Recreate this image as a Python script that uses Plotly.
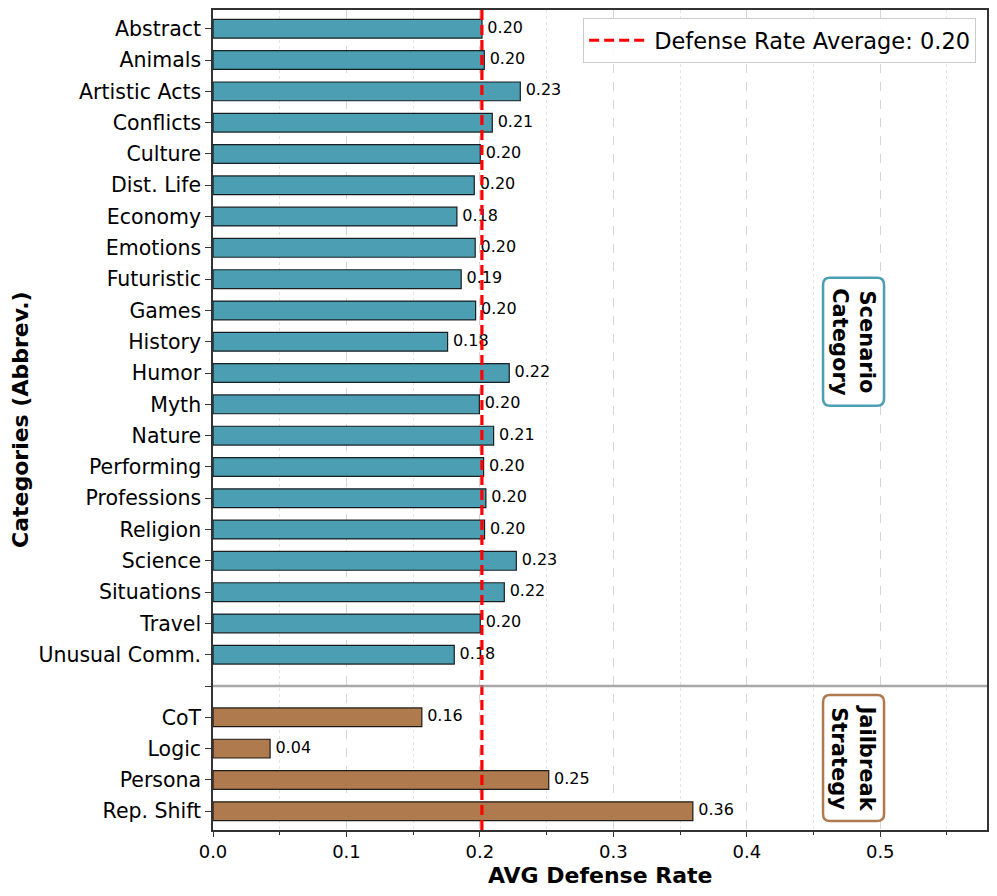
import plotly.graph_objects as go

scenario_labels = ["Abstract", "Animals", "Artistic Acts", "Conflicts", "Culture", "Dist. Life",
                   "Economy", "Emotions", "Futuristic", "Games", "History", "Humor", "Myth",
                   "Nature", "Performing", "Professions", "Religion", "Science", "Situations",
                   "Travel", "Unusual Comm."]
scenario_values = [0.2016, 0.2033, 0.2303, 0.2093, 0.2003, 0.1958, 0.1828, 0.1965, 0.1860,
                   0.1968, 0.1758, 0.2220, 0.1996, 0.2103, 0.2028, 0.2045, 0.2035, 0.2273,
                   0.2183, 0.2003, 0.1808]
jailbreak_labels = ["CoT", "Logic", "Persona", "Rep. Shift"]
jailbreak_values = [0.1565, 0.0428, 0.2516, 0.3596]
average_value = 0.2015

FONT = "DejaVu Sans"
TEAL = "#4C9EB2"
BROWN = "#B07A4F"

n_s = len(scenario_labels)
sep_pos = n_s
pos_s = list(range(n_s))
pos_j = [n_s + 1 + i for i in range(len(jailbreak_labels))]
y_max = pos_j[-1]

fig = go.Figure()

fig.add_trace(go.Bar(
    x=scenario_values, y=pos_s, orientation="h", width=0.6,
    marker=dict(color=TEAL, line=dict(color="rgba(0,0,0,0.85)", width=1.2)),
    showlegend=False, hoverinfo="skip"))
fig.add_trace(go.Bar(
    x=jailbreak_values, y=pos_j, orientation="h", width=0.6,
    marker=dict(color=BROWN, line=dict(color="rgba(0,0,0,0.85)", width=1.2)),
    showlegend=False, hoverinfo="skip"))

all_vals = scenario_values + jailbreak_values
all_pos = pos_s + pos_j
fig.add_trace(go.Scatter(
    x=[v + 0.004 for v in all_vals], y=all_pos, mode="text",
    text=[f"{v:.2f}" for v in all_vals], textposition="middle right",
    textfont=dict(family=FONT, size=16, color="black"),
    showlegend=False, hoverinfo="skip"))

# legend entry for average line
fig.add_trace(go.Scatter(
    x=[None], y=[None], mode="lines",
    line=dict(color="red", width=3, dash="10px,5px"),
    name=f"Defense Rate Average: {average_value:.2f}"))

fig.add_shape(type="line", xref="x", yref="paper", x0=average_value, x1=average_value,
              y0=0, y1=1, line=dict(color="red", width=3.2, dash="10px,5px"), layer="above")
fig.add_shape(type="line", xref="paper", yref="y", x0=0, x1=1, y0=sep_pos, y1=sep_pos,
              line=dict(color="rgba(140,140,140,0.75)", width=2.5), layer="above")


def rounded_box(hw, hh, r):
    return (f"M {-hw + r},{-hh} L {hw - r},{-hh} Q {hw},{-hh} {hw},{-hh + r} "
            f"L {hw},{hh - r} Q {hw},{hh} {hw - r},{hh} L {-hw + r},{hh} "
            f"Q {-hw},{hh} {-hw},{hh - r} L {-hw},{-hh + r} Q {-hw},{-hh} {-hw + r},{-hh} Z")


box_x = 0.48
groups = [("Scenario<br>Category", TEAL, (n_s - 1) / 2, 64),
          ("Jailbreak<br>Strategy", BROWN, (pos_j[0] + pos_j[-1]) / 2 - 0.2, 63)]
for txt, col, yc, hh in groups:
    fig.add_shape(type="path", xref="x", yref="y", xsizemode="pixel", ysizemode="pixel",
                  xanchor=box_x, yanchor=yc, path=rounded_box(30.5, hh, 7),
                  fillcolor="white", line=dict(color=col, width=2.5), layer="above")
    fig.add_annotation(x=box_x, y=yc, xref="x", yref="y", text=f"<b>{txt}</b>",
                       textangle=90, showarrow=False,
                       font=dict(family=FONT, size=21, color="black"))

# axis titles
fig.add_annotation(x=0.5, y=0, xref="paper", yref="paper", yanchor="top", yshift=-31,
                   text="<b>AVG Defense Rate</b>", showarrow=False,
                   font=dict(family=FONT, size=22, color="black"))
fig.add_annotation(x=0, y=0.5, xref="paper", yref="paper", xanchor="center", xshift=-193,
                   text="<b>Categories (Abbrev.)</b>", textangle=-90, showarrow=False,
                   font=dict(family=FONT, size=22, color="black"))

# page body adds an 8px margin; figure size compensates
fig.update_layout(
    width=989, height=888,
    margin=dict(l=205, r=10, t=2, b=66, autoexpand=False),
    paper_bgcolor="white", plot_bgcolor="white",
    font=dict(family=FONT, color="black"),
    barmode="overlay",
    legend=dict(x=0.986, y=0.99, xanchor="right", yanchor="top",
                bgcolor="rgba(255,255,255,0.9)", bordercolor="#cccccc", borderwidth=1,
                itemwidth=60,
                font=dict(family=FONT, size=22.5, color="black")),
    xaxis=dict(range=[0, 0.58], dtick=0.1, tickformat=".1f", automargin=False,
               ticks="outside", ticklen=5, tickwidth=1.2, tickcolor="#333",
               ticklabelstandoff=0,
               tickfont=dict(size=18, family=FONT),
               showline=True, linecolor="#333", linewidth=1.5, mirror=True,
               showgrid=True, gridcolor="#d6d6d6", griddash="dash", gridwidth=1,
               zeroline=False,
               minor=dict(dtick=0.05, ticks="outside", ticklen=3, tickcolor="#333",
                          showgrid=True, gridcolor="#e4e4e4", griddash="dot")),
    yaxis=dict(range=[y_max + 0.6, -0.6], automargin=False,
               tickvals=pos_s + [sep_pos] + pos_j,
               ticktext=scenario_labels + [""] + jailbreak_labels,
               ticks="outside", ticklen=6, tickwidth=1.2, tickcolor="#333",
               tickfont=dict(size=20.5, family=FONT),
               showline=True, linecolor="#333", linewidth=1.5, mirror=True,
               showgrid=False, zeroline=False),
)

fig.write_html("out.html")
